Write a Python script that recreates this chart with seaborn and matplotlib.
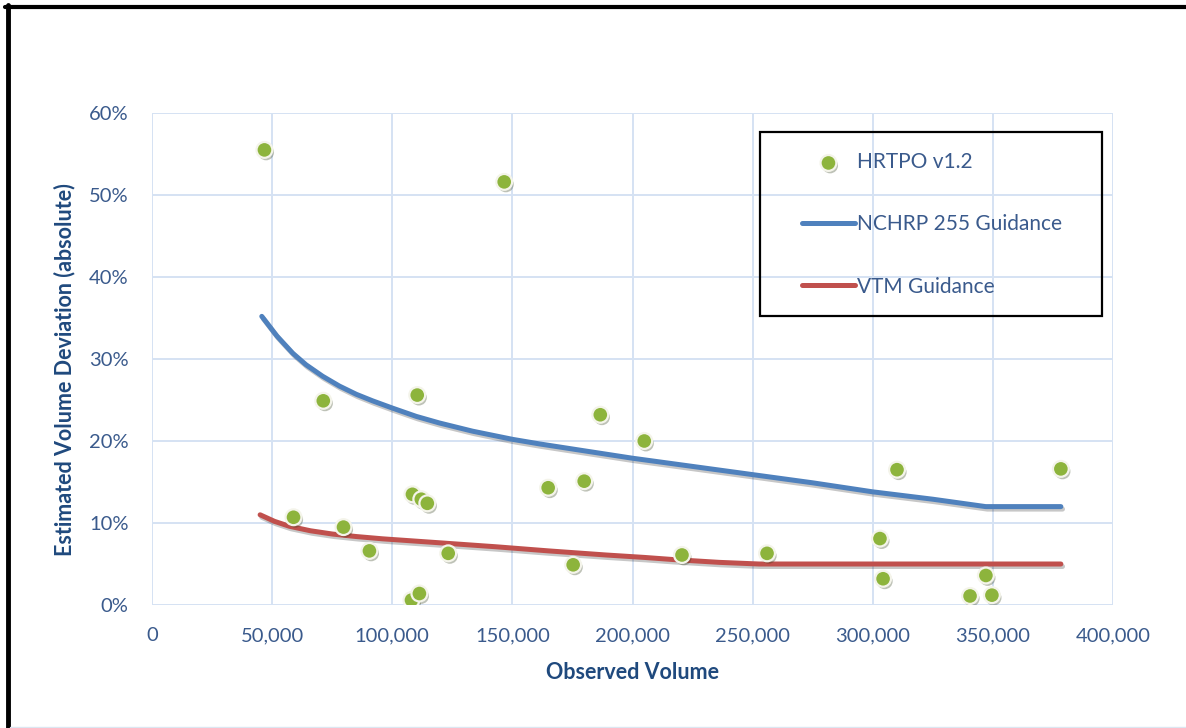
import matplotlib
matplotlib.use("Agg")
import matplotlib.pyplot as plt
import matplotlib.patheffects as pe
from matplotlib.patches import Rectangle
from matplotlib.lines import Line2D
from matplotlib.ticker import FuncFormatter
import seaborn as sns
import pandas as pd

# observed volume vs absolute deviation (HRTPO v1.2 model)
obs_volume = [46800, 146600, 71300, 110400, 186600, 204900, 310100, 378300,
              58900, 79700, 90500, 108400, 112100, 114600, 108000, 111300,
              123300, 164900, 179900, 175300, 220600, 256000, 303000, 304300,
              340500, 347100, 349600]
deviation = [0.555, 0.516, 0.249, 0.256, 0.232, 0.200, 0.165, 0.166,
             0.107, 0.095, 0.066, 0.135, 0.129, 0.124, 0.006, 0.014,
             0.063, 0.143, 0.151, 0.049, 0.061, 0.063, 0.081, 0.032,
             0.011, 0.036, 0.012]

# guidance curves
nchrp_volume = [45700, 52000, 58600, 64100, 71000, 78000, 85000, 91800, 100200,
                110000, 119600, 133400, 150100, 161200, 180000, 200000, 225000,
                250000, 275000, 300000, 325000, 347000, 378300]
nchrp_255 = [0.352, 0.328, 0.307, 0.293, 0.279, 0.267, 0.257, 0.249, 0.240,
             0.230, 0.222, 0.212, 0.202, 0.1965, 0.188, 0.179, 0.169,
             0.159, 0.149, 0.138, 0.129, 0.120, 0.120]
vtm_volume = [45000, 51000, 57200, 66000, 75200, 85000, 96000, 120000, 143200,
              165000, 188900, 205000, 216600, 236100, 252700, 300000, 378300]
vtm = [0.110, 0.102, 0.096, 0.0905, 0.0865, 0.0835, 0.0807, 0.0758, 0.071,
       0.066, 0.061, 0.058, 0.0555, 0.052, 0.050, 0.050, 0.050]

pts = pd.DataFrame({"vol": obs_volume, "dev": deviation})
nchrp = pd.DataFrame({"vol": nchrp_volume, "dev": nchrp_255})
vtmg = pd.DataFrame({"vol": vtm_volume, "dev": vtm})

sns.set_style("white")
plt.rcParams["font.family"] = ["Lato", "DejaVu Sans"]

tick_col = "#3A5A8C"
title_col = "#1F497D"
grid_col = "#D5E2F3"

fig = plt.figure(figsize=(11.86, 7.28), dpi=100)
ax = fig.add_axes([152 / 1186, 1 - 605 / 728, 961 / 1186, 492 / 728])

shadow = [pe.SimpleLineShadow(offset=(1.2, -1.8), alpha=0.22), pe.Normal()]

sns.lineplot(data=nchrp, x="vol", y="dev", ax=ax, color="#4F81BD", lw=3.6,
             sort=False, estimator=None, label="NCHRP 255 Guidance",
             solid_capstyle="round", solid_joinstyle="round",
             path_effects=shadow, zorder=3)
sns.lineplot(data=vtmg, x="vol", y="dev", ax=ax, color="#C0504D", lw=3.6,
             sort=False, estimator=None, label="VTM Guidance",
             solid_capstyle="round", solid_joinstyle="round",
             path_effects=shadow, zorder=3)
sns.scatterplot(data=pts, x="vol", y="dev", ax=ax, color="#8DB43C", s=130,
                edgecolor="#F4F4EA", linewidth=1.6, label="HRTPO v1.2",
                zorder=4)
ax.collections[-1].set_path_effects([pe.SimplePatchShadow(offset=(1.2, -1.8), alpha=0.3),
                                     pe.Normal()])

ax.set_xlim(0, 400000)
ax.set_ylim(0, 0.6)
ax.set_xticks(range(0, 400001, 50000))
ax.set_yticks([0, 0.1, 0.2, 0.3, 0.4, 0.5, 0.6])
ax.xaxis.set_major_formatter(FuncFormatter(lambda v, p: "{:,.0f}".format(v)))
ax.yaxis.set_major_formatter(FuncFormatter(lambda v, p: "{:.0f}%".format(v * 100)))
ax.tick_params(axis="both", length=0, labelsize=14.5, colors=tick_col)
ax.tick_params(axis="x", pad=16)
ax.tick_params(axis="y", pad=17)
ax.grid(True, color=grid_col, lw=1.4)
ax.set_axisbelow(True)
for s in ax.spines.values():
    s.set_visible(False)

ax.set_xlabel("Observed Volume", fontsize=15.5, fontweight="bold", color=title_col)
ax.set_ylabel("Estimated Volume Deviation (absolute)", fontsize=15.5,
              fontweight="bold", color=title_col)
ax.xaxis.set_label_coords(0.5, -0.115)
ax.yaxis.set_label_coords(-0.08, 0.478)

# legend, order as in reference
h, l = ax.get_legend_handles_labels()
order = [l.index("HRTPO v1.2"), l.index("NCHRP 255 Guidance"), l.index("VTM Guidance")]
leg = ax.legend([h[i] for i in order], [l[i] for i in order],
                loc="upper left", bbox_to_anchor=(792 / 1186, 1 - 142 / 728),
                bbox_transform=fig.transFigure, frameon=False, fontsize=15,
                handlelength=2.5, handletextpad=0.12, labelspacing=2.02,
                borderpad=0, labelcolor=tick_col)
for t in leg.get_lines():
    t.set_path_effects([])
fig.patches.append(Rectangle((760 / 1186, 1 - 316 / 728), 342 / 1186, 184 / 728,
                             transform=fig.transFigure, fill=False,
                             edgecolor="black", lw=1.6, zorder=5))

# outer frame (top and left edges visible in the crop)
fig.lines.append(Line2D([5 / 1186, 1], [1 - 7 / 728, 1 - 7 / 728],
                        transform=fig.transFigure, color="black", lw=3))
fig.lines.append(Line2D([7.5 / 1186, 7.5 / 1186], [0, 1 - 5 / 728],
                        transform=fig.transFigure, color="black", lw=3.5))
fig.lines.append(Line2D([10 / 1186, 1], [1 / 728, 1 / 728],
                        transform=fig.transFigure, color="#DCE6F1", lw=1))

fig.savefig("out.png", dpi=100)
